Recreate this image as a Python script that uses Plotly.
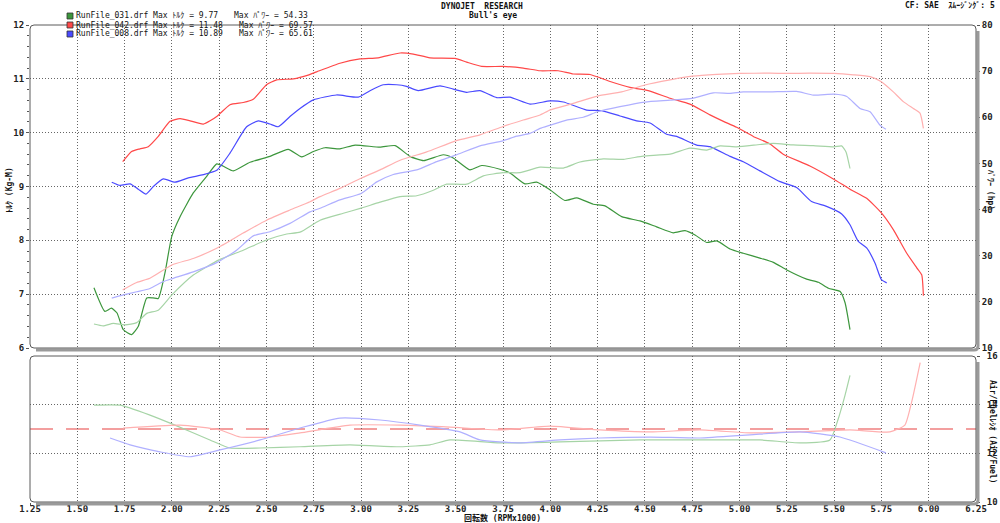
import plotly.graph_objects as go

# ---------------- data ----------------
RPM_RANGE = [1.25, 6.25]
TQ_RANGE = [6, 12]
HP_RANGE = [10, 80]
AF_RANGE = [10, 16]
AF_TARGET = 13.0

X_TICKS = [1.25, 1.50, 1.75, 2.00, 2.25, 2.50, 2.75, 3.00, 3.25, 3.50, 3.75,
           4.00, 4.25, 4.50, 4.75, 5.00, 5.25, 5.50, 5.75, 6.00, 6.25]
X_TICK_LABELS = ["%.2f" % v for v in X_TICKS]

# RunFile_031 (green)
g_tq_rpm = [1.588, 1.646, 1.68, 1.71, 1.743, 1.787, 1.822, 1.867, 1.90, 1.928, 1.963, 1.999,
            2.043, 2.113, 2.184, 2.237, 2.27, 2.325, 2.413, 2.518, 2.615, 2.686, 2.748, 2.81,
            2.888, 2.968, 3.10, 3.18, 3.258, 3.33, 3.434, 3.487, 3.575, 3.637, 3.734, 3.787,
            3.866, 3.928, 3.998, 4.077, 4.14, 4.227, 4.289, 4.377, 4.474, 4.562, 4.65, 4.712,
            4.765, 4.827, 4.88, 4.95, 5.02, 5.108, 5.179, 5.25, 5.355, 5.417, 5.47, 5.532,
            5.558, 5.584]
g_tq = [7.12, 6.68, 6.74, 6.65, 6.34, 6.25, 6.40, 6.93, 6.93, 6.92, 7.39, 8.07,
        8.44, 8.88, 9.19, 9.42, 9.38, 9.29, 9.45, 9.56, 9.69, 9.55, 9.65, 9.72,
        9.70, 9.77, 9.73, 9.76, 9.56, 9.48, 9.59, 9.53, 9.31, 9.39, 9.32, 9.25,
        9.05, 9.08, 8.94, 8.74, 8.79, 8.67, 8.64, 8.44, 8.36, 8.25, 8.14, 8.18,
        8.10, 7.96, 7.99, 7.84, 7.76, 7.67, 7.59, 7.45, 7.28, 7.22, 7.11, 7.05,
        6.84, 6.34]
g_hp_rpm = [1.588, 1.637, 1.69, 1.752, 1.814, 1.867, 1.928, 2.0, 2.113, 2.249, 2.377, 2.5,
            2.607, 2.677, 2.783, 2.906, 3.0, 3.10, 3.206, 3.294, 3.382, 3.452, 3.558, 3.646,
            3.75, 3.84, 3.946, 4.069, 4.157, 4.28, 4.386, 4.49, 4.633, 4.738, 4.827, 4.897,
            4.985, 5.108, 5.179, 5.284, 5.39, 5.5, 5.54, 5.563, 5.584]
g_hp = [15.2, 14.8, 15.35, 15.0, 15.5, 17.5, 18.2, 21.5, 25.8, 29.1, 31.2, 33.4,
        34.7, 35.1, 37.7, 39.2, 40.3, 41.6, 42.8, 43.0, 44.2, 45.5, 45.5, 47.3,
        48.0, 48.0, 49.2, 49.0, 50.3, 51.0, 50.9, 51.6, 52.0, 53.3, 52.9, 53.8,
        53.6, 54.1, 54.33, 54.0, 53.85, 53.6, 53.8, 52.5, 48.9]
g_af_rpm = [1.588, 1.726, 1.884, 2.016, 2.201, 2.307, 2.466, 2.677, 2.941, 3.206, 3.364,
            3.47, 3.734, 4.051, 4.474, 4.791, 5.108, 5.32, 5.478, 5.52, 5.558, 5.584]
g_af = [13.98, 13.98, 13.57, 13.16, 12.55, 12.22, 12.22, 12.27, 12.35, 12.27, 12.35,
        12.55, 12.43, 12.47, 12.55, 12.55, 12.55, 12.43, 12.55, 13.37, 14.39, 15.2]

# RunFile_042 (red)
r_tq_rpm = [1.74, 1.787, 1.831, 1.875, 1.928, 1.99, 2.043, 2.096, 2.166, 2.237, 2.307, 2.377,
            2.43, 2.5, 2.554, 2.642, 2.72, 2.765, 2.888, 2.994, 3.09, 3.206, 3.276, 3.364,
            3.496, 3.558, 3.637, 3.75, 3.857, 3.946, 4.042, 4.121, 4.21, 4.316, 4.421, 4.518,
            4.633, 4.738, 4.844, 4.915, 4.985, 5.073, 5.161, 5.231, 5.372, 5.496, 5.584,
            5.672, 5.75, 5.813, 5.884, 5.937, 5.963, 5.972]
r_tq = [9.46, 9.65, 9.70, 9.74, 9.93, 10.21, 10.26, 10.22, 10.16, 10.30, 10.52, 10.56,
        10.62, 10.89, 10.98, 11.0, 11.07, 11.13, 11.29, 11.37, 11.39, 11.48, 11.46, 11.39,
        11.38, 11.31, 11.23, 11.23, 11.20, 11.15, 11.15, 11.09, 11.08, 10.95, 10.84, 10.78,
        10.64, 10.53, 10.33, 10.21, 10.10, 9.93, 9.79, 9.60, 9.38, 9.14, 8.95,
        8.78, 8.51, 8.20, 7.76, 7.49, 7.36, 6.97]
r_hp_rpm = [1.74, 1.814, 1.884, 2.0, 2.113, 2.237, 2.377, 2.5, 2.624, 2.73, 2.783, 2.888,
            3.0, 3.10, 3.206, 3.347, 3.5, 3.628, 3.75, 3.857, 3.946, 4.0, 4.121, 4.25,
            4.377, 4.5, 4.633, 4.75, 4.88, 5.0, 5.161, 5.25, 5.372, 5.5, 5.602, 5.69,
            5.75, 5.813, 5.866, 5.919, 5.954, 5.972]
r_hp = [22.6, 24.2, 25.1, 28.0, 29.4, 31.6, 34.9, 37.7, 39.9, 41.7, 42.8, 44.6,
        46.8, 48.6, 50.7, 52.5, 54.9, 56.2, 58.0, 59.4, 60.5, 61.6, 63.0, 64.6,
        65.5, 67.0, 68.1, 68.9, 69.3, 69.5, 69.57, 69.5, 69.57, 69.5, 69.2, 68.8,
        67.7, 65.5, 63.4, 61.9, 60.9, 57.6]
r_af_rpm = [1.742, 2.043, 2.254, 2.36, 2.518, 2.677, 2.941, 3.206, 3.47, 3.734, 3.998,
            4.263, 4.527, 4.791, 5.055, 5.32, 5.584, 5.795, 5.874, 5.912, 5.955]
r_af = [13.04, 13.16, 12.96, 12.67, 12.67, 12.84, 13.16, 13.16, 13.08, 12.96, 13.12,
        12.96, 12.88, 12.96, 12.84, 12.88, 12.96, 12.88, 13.16, 14.18, 15.73]

# RunFile_008 (blue)
b_tq_rpm = [1.682, 1.726, 1.779, 1.822, 1.863, 1.902, 1.955, 2.016, 2.087, 2.166, 2.237, 2.307,
            2.395, 2.457, 2.518, 2.562, 2.624, 2.677, 2.748, 2.87, 2.985, 3.047, 3.117, 3.188,
            3.24, 3.302, 3.417, 3.487, 3.558, 3.628, 3.717, 3.787, 3.893, 3.998, 4.069, 4.192,
            4.272, 4.368, 4.456, 4.527, 4.615, 4.668, 4.774, 4.844, 4.95, 5.02, 5.108, 5.214,
            5.302, 5.381, 5.46, 5.54, 5.584, 5.628, 5.672, 5.716, 5.75, 5.778]
b_tq = [9.08, 9.02, 9.05, 8.95, 8.86, 9.0, 9.14, 9.08, 9.16, 9.22, 9.30, 9.62,
        10.11, 10.22, 10.16, 10.11, 10.30, 10.45, 10.61, 10.70, 10.66, 10.78, 10.89, 10.89,
        10.86, 10.78, 10.87, 10.81, 10.75, 10.78, 10.65, 10.66, 10.53, 10.59, 10.57, 10.42,
        10.41, 10.31, 10.22, 10.18, 9.97, 9.93, 9.77, 9.74, 9.56, 9.46, 9.29, 9.09,
        8.98, 8.72, 8.63, 8.49, 8.29, 7.98, 7.86, 7.58, 7.27, 7.21]
b_hp_rpm = [1.682, 1.743, 1.814, 1.884, 1.955, 2.007, 2.113, 2.237, 2.342, 2.43, 2.518, 2.624,
            2.73, 2.783, 2.888, 3.0, 3.083, 3.17, 3.294, 3.4, 3.5, 3.628, 3.75, 3.822,
            3.893, 3.946, 4.0, 4.086, 4.174, 4.25, 4.368, 4.5, 4.633, 4.75, 4.862, 4.95,
            5.02, 5.161, 5.302, 5.39, 5.5, 5.567, 5.637, 5.69, 5.742, 5.774]
b_hp = [20.8, 21.5, 22.2, 22.9, 24.4, 25.1, 26.5, 28.5, 31.2, 34.3, 35.2, 37.0,
        39.5, 40.3, 42.1, 43.5, 46.0, 47.6, 48.6, 50.4, 51.8, 53.8, 54.9, 55.9,
        56.5, 57.6, 58.3, 59.4, 60.0, 61.2, 62.3, 63.3, 63.7, 64.1, 65.3, 65.2,
        65.5, 65.5, 65.61, 64.8, 65.0, 64.5, 61.9, 61.2, 58.3, 57.4]
b_af_rpm = [1.673, 1.779, 1.937, 2.096, 2.254, 2.466, 2.677, 2.888, 3.1, 3.311, 3.523,
            3.628, 3.84, 4.051, 4.263, 4.527, 4.791, 5.055, 5.32, 5.531, 5.774]
b_af = [12.63, 12.35, 12.06, 11.86, 12.14, 12.55, 13.04, 13.45, 13.37, 13.16, 12.88,
        12.55, 12.43, 12.55, 12.63, 12.67, 12.63, 12.76, 12.88, 12.67, 12.02]

RUNS = [
    ("RunFile_031.drf", "9.77", "54.33"),
    ("RunFile_042.drf", "11.48", "69.57"),
    ("RunFile_008.drf", "10.89", "65.61"),
]

# ---------------- styling ----------------
W, H = 1000, 523
FONT = "DejaVu Sans Mono, Noto Sans CJK JP"
GRID = "#666666"
GRID_DASH = "1px,2px"
C_G, C_G2 = "#3c963c", "#a6d4a6"
C_R, C_R2 = "#ff4848", "#ffb0b0"
C_B, C_B2 = "#4a4aff", "#b0b0ff"

# pixel layout
L, R = 30, 976
TOP_T, TOP_B = 25, 348
BOT_T, BOT_B = 356, 502


def X(px):
    return px / W


def Y(py):
    return 1 - py / H


fig = go.Figure()


def line(x, y, color, xa, ya, w=1.2):
    fig.add_trace(go.Scatter(x=x, y=y, mode="lines", xaxis=xa, yaxis=ya,
                             line=dict(color=color, width=w, shape="spline", smoothing=0.5),
                             hoverinfo="skip", showlegend=False))


# power (light) first, torque on top
line(g_hp_rpm, g_hp, C_G2, "x", "y2")
line(r_hp_rpm, r_hp, C_R2, "x", "y2")
line(b_hp_rpm, b_hp, C_B2, "x", "y2")
line(g_tq_rpm, g_tq, C_G, "x", "y")
line(r_tq_rpm, r_tq, C_R, "x", "y")
line(b_tq_rpm, b_tq, C_B, "x", "y")
line(g_af_rpm, g_af, C_G2, "x2", "y3")
line(r_af_rpm, r_af, C_R2, "x2", "y3")
line(b_af_rpm, b_af, C_B2, "x2", "y3")

tickfont = dict(family=FONT, size=9, color="#222", weight="bold")

xcommon = dict(range=RPM_RANGE, tickvals=X_TICKS, showgrid=True, gridcolor=GRID,
               griddash=GRID_DASH, gridwidth=1, zeroline=False, showline=False,
               domain=[X(L), X(R)], fixedrange=True, automargin=False)

fig.update_layout(
    width=W, height=H, autosize=False,
    margin=dict(l=0, r=0, t=0, b=0, pad=0),
    paper_bgcolor="white", plot_bgcolor="white",
    showlegend=False,
    xaxis=dict(**xcommon, anchor="y", showticklabels=False, ticks=""),
    xaxis2=dict(**xcommon, anchor="y3", ticktext=X_TICK_LABELS, ticks="outside",
                ticklen=3, tickcolor="#555", tickfont=tickfont, ticklabelstandoff=-5,
                minor=dict(dtick=0.05, tick0=1.25, ticks="outside", ticklen=2,
                           tickcolor="#555", showgrid=False)),
    yaxis=dict(range=TQ_RANGE, domain=[Y(TOP_B), Y(TOP_T)], anchor="x", dtick=1,
               showgrid=True, gridcolor=GRID, griddash=GRID_DASH, zeroline=False,
               showline=False, ticks="outside", ticklen=3, tickcolor="#555",
               tickfont=tickfont, fixedrange=True, automargin=False,
               minor=dict(dtick=0.2, ticks="outside", ticklen=2, tickcolor="#555",
                          showgrid=False)),
    yaxis2=dict(range=HP_RANGE, overlaying="y", side="right", anchor="x", dtick=10,
                showgrid=False, zeroline=False, showline=False, ticks="outside",
                ticklen=3, tickcolor="#555", tickfont=tickfont, fixedrange=True,
                automargin=False,
                minor=dict(dtick=2, ticks="outside", ticklen=2, tickcolor="#555")),
    yaxis3=dict(range=AF_RANGE, domain=[Y(BOT_B), Y(BOT_T)], anchor="x2", side="right",
                dtick=2, showgrid=True, gridcolor=GRID, griddash=GRID_DASH, zeroline=False,
                showline=False, ticks="outside", ticklen=3, tickcolor="#555",
                tickfont=tickfont, fixedrange=True, automargin=False,
                ticklabelstandoff=5,
                minor=dict(dtick=0.4, ticks="outside", ticklen=2, tickcolor="#555",
                           showgrid=False)),
)


def frame(x0, y0, x1, y1, r=4):
    return (f"M {X(x0 + r)},{Y(y0)} L {X(x1 - r)},{Y(y0)} Q {X(x1)},{Y(y0)} {X(x1)},{Y(y0 + r)} "
            f"L {X(x1)},{Y(y1 - r)} Q {X(x1)},{Y(y1)} {X(x1 - r)},{Y(y1)} "
            f"L {X(x0 + r)},{Y(y1)} Q {X(x0)},{Y(y1)} {X(x0)},{Y(y1 - r)} "
            f"L {X(x0)},{Y(y0 + r)} Q {X(x0)},{Y(y0)} {X(x0 + r)},{Y(y0)} Z")


def shadow(x0, y0, x1, y1, r=4, d=2):
    return (f"M {X(x1 + d)},{Y(y0 + r + d)} L {X(x1 + d)},{Y(y1 - r + d)} "
            f"Q {X(x1 + d)},{Y(y1 + d)} {X(x1 - r + d)},{Y(y1 + d)} L {X(x0 + r + d)},{Y(y1 + d)}")


shapes = []
for (t, b) in [(TOP_T, TOP_B), (BOT_T, BOT_B)]:
    shapes.append(dict(type="path", xref="paper", yref="paper", path=shadow(L, t, R, b),
                       line=dict(color="#9a9a9a", width=3), layer="above"))
    shapes.append(dict(type="path", xref="paper", yref="paper", path=frame(L, t, R, b),
                       line=dict(color="#5a5a5a", width=1), layer="above"))

# A/F target line
shapes.append(dict(type="line", xref="x2", yref="y3", x0=RPM_RANGE[0], x1=RPM_RANGE[1],
                   y0=AF_TARGET, y1=AF_TARGET,
                   line=dict(color="#e84040", width=1.2, dash="23px,13px"), layer="below"))

# legend squares
leg_colors = [C_G, C_R, C_B]
leg_y = [16, 25, 34]
for c, yy in zip(leg_colors, leg_y):
    shapes.append(dict(type="rect", xref="paper", yref="paper", x0=X(67), x1=X(73),
                       y0=Y(yy + 3), y1=Y(yy - 3), fillcolor=c,
                       line=dict(color="#333", width=0.8), layer="above"))

fig.update_layout(shapes=shapes)

ann = []


def txt(s, x, y, size=8, xanchor="left", angle=0, bold=False, color="#111"):
    ann.append(dict(text=s, x=X(x), y=Y(y), xref="paper", yref="paper", showarrow=False,
                    xanchor=xanchor, yanchor="middle", textangle=angle,
                    font=dict(family=FONT, size=size, color=color,
                              weight="bold" if bold else "normal")))


for (name, tq, hp), yy, px2 in zip(RUNS, leg_y, [232, 237, 237]):
    txt(f"{name} Max ﾄﾙｸ = {tq}", 74, yy, size=8)
    txt(f"Max ﾊﾟﾜｰ = {hp}", px2, yy, size=8)

txt("DYNOJET  RESEARCH", 482, 6, size=8, xanchor="center", bold=True)
txt("Bull's eye", 493, 16, size=8, xanchor="center", bold=True)
txt("CF: SAE  ｽﾑｰｼﾞﾝｸﾞ: 5", 997, 5, size=8, xanchor="right", bold=True)
txt("ﾄﾙｸ (Kg-M)", 9, 190, size=8, xanchor="center", angle=-90, bold=True)
txt("ﾊﾟﾜｰ (hp)", 991, 190, size=8, xanchor="center", angle=90, bold=True)
txt("Air/Fuelﾚｼｵ (Air/Fuel)", 993, 432, size=8, xanchor="center", angle=90, bold=True)
txt("回転数 (RPMx1000)", 502, 518, size=8, xanchor="center", bold=True)

fig.update_layout(annotations=ann)

fig.write_html("out.html", config={"displayModeBar": False},
               post_script="document.body.style.margin='0';document.body.style.overflow='hidden';")
